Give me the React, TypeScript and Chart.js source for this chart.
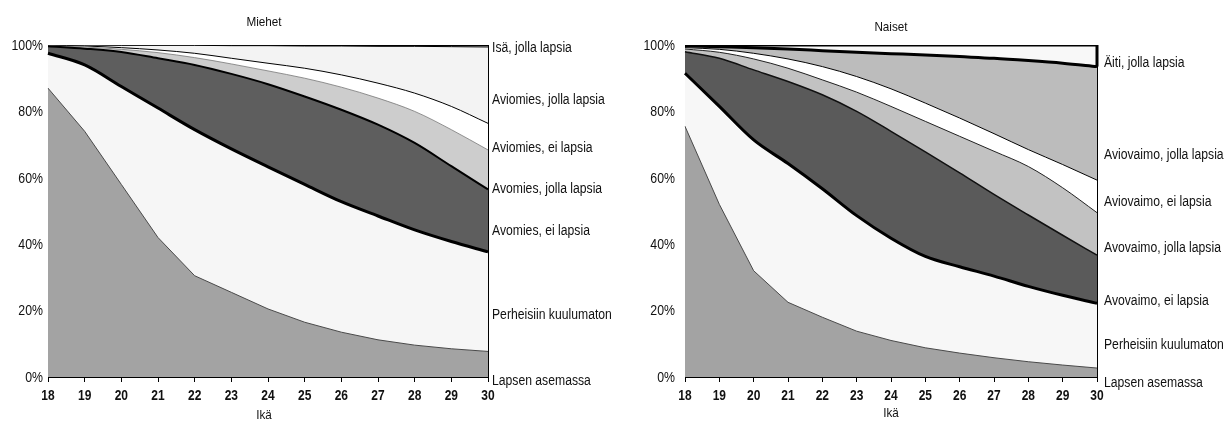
import React, { useEffect, useRef } from "react";
import { Chart, registerables } from "chart.js";

Chart.register(...registerables);

// ---------- data ----------
const ages = ["18", "19", "20", "21", "22", "23", "24", "25", "26", "27", "28", "29", "30"];
const yTickValues = [0, 20, 40, 60, 80, 100];

// Miehet (share of age group, %), bottom to top
const menLapsen = [87, 74, 58, 42, 30.5, 25.5, 20.5, 16.5, 13.5, 11.2, 9.6, 8.5, 7.7];
const menPerheisiin = [10.5, 20, 29.5, 39, 44, 43.2, 42.8, 41.5, 39.3, 37.3, 34.7, 32.3, 30];
const menAvoEi = [2.1, 4.9, 10.4, 15, 19.5, 22.6, 24.9, 26.5, 27.7, 27.5, 26.2, 22.7, 18.8];
const menAvoJolla = [0.2, 0.5, 0.8, 1.7, 2.2, 3, 4, 5.5, 6.8, 8, 9.5, 11, 11.9];
const menAvioEi = [0.1, 0.3, 0.5, 0.8, 1.3, 1.7, 2.3, 3, 3.7, 4.5, 5.5, 7, 8];
const menAvioJolla = [0.1, 0.3, 0.7, 1.4, 2.4, 3.8, 5.3, 6.7, 8.7, 11.1, 14.1, 18, 23];
const menIsa = [0, 0, 0.1, 0.1, 0.1, 0.2, 0.2, 0.3, 0.3, 0.4, 0.4, 0.5, 0.6];

const menNames = [
  "Lapsen asemassa",
  "Perheisiin kuulumaton",
  "Avomies, ei lapsia",
  "Avomies, jolla lapsia",
  "Aviomies, ei lapsia",
  "Aviomies, jolla lapsia",
  "Isä, jolla lapsia",
];
const menLabelLevels = [-1.1, 18.5, 44, 56.5, 68.9, 83.4, 99];

// Naiset
const womenLapsen = [75.5, 52, 32, 22.5, 18, 13.8, 11, 8.8, 7.2, 5.8, 4.6, 3.6, 2.7];
const womenPerheisiin = [16, 29.5, 39.4, 41.8, 38.7, 34.8, 30.8, 27.5, 26, 24.6, 22.7, 21, 19.5];
const womenAvoEi = [6.5, 14.5, 21.1, 24.7, 28.3, 31.4, 32.2, 31.5, 28.3, 24.6, 21.5, 18.1, 14.5];
const womenAvoJolla = [0.8, 1.8, 3.3, 4, 4.5, 5.8, 7.5, 9.2, 11, 13, 14.6, 14.3, 12.8];
const womenAvioEi = [0.4, 0.9, 1.7, 2.8, 4, 4.7, 5.3, 5.5, 5.5, 5.3, 5.1, 7, 9.8];
const womenAvioJolla = [0.6, 0.8, 1.7, 3, 4.8, 7.3, 10.6, 14.5, 18.5, 22.7, 26.8, 30.5, 34.2];
const womenAiti = [0.2, 0.5, 0.8, 1.2, 1.7, 2.2, 2.6, 3, 3.5, 4, 4.7, 5.5, 6.5];

const womenNames = [
  "Lapsen asemassa",
  "Perheisiin kuulumaton",
  "Avovaimo, ei lapsia",
  "Avovaimo, jolla lapsia",
  "Aviovaimo, ei lapsia",
  "Aviovaimo, jolla lapsia",
  "Äiti, jolla lapsia",
];
const womenLabelLevels = [-1.9, 9.6, 22.9, 38.8, 52.8, 66.9, 94.5];

// ---------- styling ----------
const FONT = "'Liberation Sans', Arial, sans-serif";

type BandStyle = { bg: string; border: string; bw: number; smooth: boolean };

const menStyles: BandStyle[] = [
  { bg: "#a3a3a3", border: "#4a4a4a", bw: 1, smooth: false },
  { bg: "#f6f6f6", border: "#000000", bw: 3, smooth: true },
  { bg: "#5e5e5e", border: "#000000", bw: 2, smooth: true },
  { bg: "#cdcdcd", border: "#777777", bw: 0.8, smooth: true },
  { bg: "#ffffff", border: "#000000", bw: 1, smooth: true },
  { bg: "#f3f3f3", border: "#000000", bw: 1, smooth: true },
  { bg: "#ffffff", border: "#000000", bw: 2.5, smooth: true },
];

const womenStyles: BandStyle[] = [
  { bg: "#a3a3a3", border: "#4a4a4a", bw: 1, smooth: false },
  { bg: "#f7f7f7", border: "#000000", bw: 3, smooth: true },
  { bg: "#5a5a5a", border: "#111111", bw: 1.5, smooth: true },
  { bg: "#c2c2c2", border: "#222222", bw: 1, smooth: true },
  { bg: "#ffffff", border: "#000000", bw: 1, smooth: true },
  { bg: "#bcbcbc", border: "#000000", bw: 3, smooth: true },
  { bg: "#f8f8f8", border: "#000000", bw: 3, smooth: true },
];

function squeezedText(
  ctx: CanvasRenderingContext2D,
  text: string,
  x: number,
  y: number,
  align: "left" | "center" | "right",
  squeeze: number
) {
  ctx.save();
  ctx.translate(x, y);
  ctx.scale(squeeze, 1);
  ctx.textAlign = align;
  ctx.fillText(text, 0, 0);
  ctx.restore();
}

const annotatePlugin = {
  id: "annotate",
  afterDraw(chart: any, _args: any, opts: any) {
    const { ctx, chartArea, scales } = chart;
    const y = scales.y;
    const x = scales.x;
    ctx.save();
    // right edge line
    ctx.strokeStyle = "#000";
    ctx.lineWidth = 1;
    ctx.beginPath();
    ctx.moveTo(chartArea.right + 0.5, chartArea.top);
    ctx.lineTo(chartArea.right + 0.5, chartArea.bottom);
    ctx.stroke();
    if (opts.boxTopShare) {
      ctx.lineWidth = 3;
      ctx.beginPath();
      ctx.moveTo(chartArea.right, y.getPixelForValue(100));
      ctx.lineTo(chartArea.right, y.getPixelForValue(100 - opts.boxTopShare));
      ctx.stroke();
    }
    ctx.fillStyle = "#111";
    ctx.textBaseline = "middle";
    // y tick labels
    ctx.font = `14px ${FONT}`;
    yTickValues.forEach((v) => {
      squeezedText(ctx, `${v}%`, chartArea.left - opts.tickPad, y.getPixelForValue(v) + 1, "right", 0.88);
    });
    // x tick labels
    ctx.font = `bold 15px ${FONT}`;
    ages.forEach((a, i) => {
      squeezedText(ctx, a, x.getPixelForValue(i), chartArea.bottom + 19, "center", 0.8);
    });
    // series labels on the right
    ctx.font = `14px ${FONT}`;
    opts.names.forEach((n: string, i: number) => {
      squeezedText(ctx, n, chartArea.right + opts.labelGap, y.getPixelForValue(opts.levels[i]), "left", 0.87);
    });
    // title and axis title
    const cx = (chartArea.left + chartArea.right) / 2;
    ctx.font = `13px ${FONT}`;
    squeezedText(ctx, opts.title, cx + opts.titleDx, opts.titleY, "center", 0.9);
    squeezedText(ctx, "Ikä", cx + opts.titleDx, opts.xTitleY, "center", 0.9);
    ctx.restore();
  },
};

type PanelProps = {
  left: number;
  width: number;
  yAxisWidth: number;
  padRight: number;
  series: number[][];
  names: string[];
  levels: number[];
  styles: BandStyle[];
  title: string;
  titleDx: number;
  titleY: number;
  xTitleY: number;
  labelGap: number;
  tickPad: number;
  boxTopShare?: number;
};

function Panel(p: PanelProps) {
  const ref = useRef<HTMLCanvasElement | null>(null);
  useEffect(() => {
    if (!ref.current) return;
    const datasets = p.series.map((vals, i) => ({
      label: p.names[i],
      data: vals,
      backgroundColor: p.styles[i].bg,
      borderColor: p.styles[i].border,
      borderWidth: p.styles[i].bw,
      fill: i === 0 ? "origin" : "-1",
      pointRadius: 0,
      tension: 0,
      cubicInterpolationMode: p.styles[i].smooth ? "monotone" : "default",
    }));
    const chart = new Chart(ref.current, {
      type: "line",
      data: { labels: ages, datasets: datasets as any },
      plugins: [annotatePlugin as any],
      options: {
        animation: false,
        responsive: false,
        devicePixelRatio: 1,
        layout: { padding: { left: 0, right: p.padRight, top: 45, bottom: 22 } },
        plugins: {
          legend: { display: false },
          tooltip: { enabled: false },
          annotate: {
            names: p.names,
            levels: p.levels,
            title: p.title,
            titleDx: p.titleDx,
            titleY: p.titleY,
            xTitleY: p.xTitleY,
            labelGap: p.labelGap,
            tickPad: p.tickPad,
            boxTopShare: p.boxTopShare,
          },
        } as any,
        scales: {
          x: {
            type: "category",
            offset: false,
            afterFit: (s: any) => {
              s.height = 30;
            },
            grid: {
              display: true,
              drawOnChartArea: false,
              drawTicks: true,
              tickLength: 5,
              color: "#000",
            },
            border: { display: true, color: "#000", width: 1 },
            ticks: {
              display: false,
              autoSkip: false,
              maxRotation: 0,
            },
          },
          y: {
            stacked: true,
            min: 0,
            max: 100,
            afterFit: (s: any) => {
              s.width = p.yAxisWidth;
            },
            afterBuildTicks: (s: any) => {
              s.ticks = yTickValues.map((v) => ({ value: v }));
            },
            grid: { display: false, drawTicks: false },
            border: { display: true, color: "#000", width: 1 },
            ticks: { display: false },
          },
        },
      },
    });
    return () => chart.destroy();
  }, []);
  return (
    <canvas
      ref={ref}
      width={p.width}
      height={429}
      style={{ position: "absolute", left: p.left, top: 0, width: p.width, height: 429 }}
    />
  );
}

export default function App() {
  return (
    <div
      style={{
        position: "absolute",
        left: 0,
        top: 0,
        width: 1227,
        height: 429,
        background: "#ffffff",
        overflow: "hidden",
      }}
    >
      <Panel
        left={0}
        width={613}
        yAxisWidth={48}
        padRight={125}
        series={[menLapsen, menPerheisiin, menAvoEi, menAvoJolla, menAvioEi, menAvioJolla, menIsa]}
        names={menNames}
        levels={menLabelLevels}
        styles={menStyles}
        title="Miehet"
        titleDx={-4}
        titleY={22}
        xTitleY={415}
        labelGap={4}
        tickPad={5}
      />
      <Panel
        left={613}
        width={614}
        yAxisWidth={72}
        padRight={130}
        series={[
          womenLapsen,
          womenPerheisiin,
          womenAvoEi,
          womenAvoJolla,
          womenAvioEi,
          womenAvioJolla,
          womenAiti,
        ]}
        names={womenNames}
        levels={womenLabelLevels}
        styles={womenStyles}
        title="Naiset"
        titleDx={0}
        titleY={27}
        xTitleY={413}
        labelGap={7}
        tickPad={10}
        boxTopShare={womenAiti[womenAiti.length - 1]}
      />
    </div>
  );
}
